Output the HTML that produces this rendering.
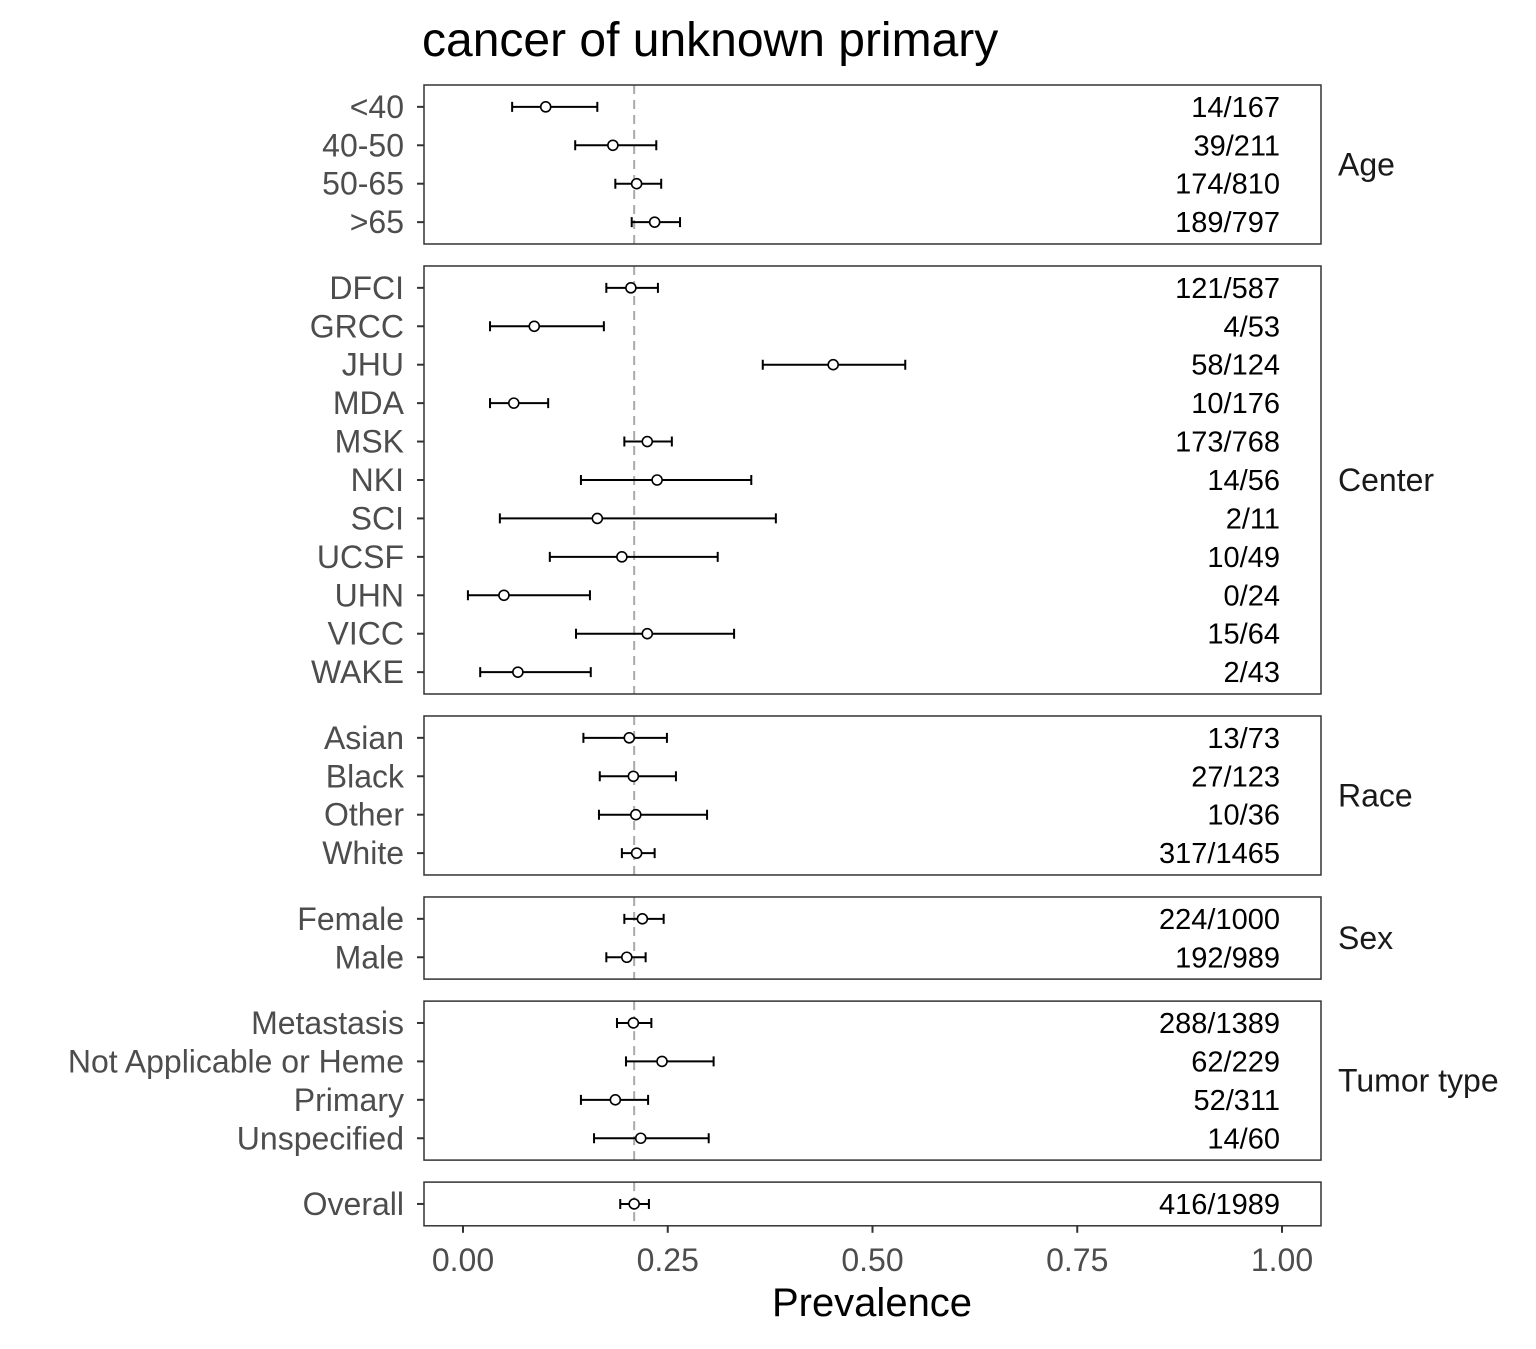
<!DOCTYPE html>
<html><head><meta charset="utf-8"><style>
body{margin:0;background:#fff}
svg text{font-family:"Liberation Sans",Arial,sans-serif}
</style></head><body>
<svg id="chart" width="1536" height="1344" xmlns="http://www.w3.org/2000/svg">
<text x="422" y="56" font-size="48" fill="#000">cancer of unknown primary</text>
<g id="panels"></g>
<g id="xaxis"></g>
<text x="872" y="1316" font-size="40" text-anchor="middle" fill="#000">Prevalence</text>
</svg>
<script>
const groups = ["Age","Center","Race","Sex","Tumor type",""];
const labels = [
 ["<40","40-50","50-65",">65"],
 ["DFCI","GRCC","JHU","MDA","MSK","NKI","SCI","UCSF","UHN","VICC","WAKE"],
 ["Asian","Black","Other","White"],
 ["Female","Male"],
 ["Metastasis","Not Applicable or Heme","Primary","Unspecified"],
 ["Overall"]
];
const counts = [
 ["14/167","39/211","174/810","189/797"],
 ["121/587","4/53","58/124","10/176","173/768","14/56","2/11","10/49","0/24","15/64","2/43"],
 ["13/73","27/123","10/36","317/1465"],
 ["224/1000","192/989"],
 ["288/1389","62/229","52/311","14/60"],
 ["416/1989"]
];
const estimates = [
 [0.101,0.183,0.212,0.234],
 [0.205,0.087,0.452,0.062,0.225,0.237,0.164,0.194,0.050,0.225,0.067],
 [0.203,0.208,0.211,0.212],
 [0.219,0.200],
 [0.208,0.243,0.186,0.217],
 [0.209]
];
const lowers = [
 [0.060,0.137,0.186,0.206],
 [0.175,0.033,0.366,0.033,0.197,0.144,0.045,0.106,0.006,0.138,0.021],
 [0.147,0.167,0.166,0.194],
 [0.197,0.175],
 [0.188,0.199,0.144,0.160],
 [0.192]
];
const uppers = [
 [0.164,0.236,0.242,0.265],
 [0.238,0.172,0.540,0.104,0.255,0.352,0.382,0.311,0.155,0.331,0.156],
 [0.249,0.260,0.298,0.234],
 [0.245,0.223],
 [0.230,0.306,0.226,0.300],
 [0.227]
];
const overallRef = 0.209;
const xTicks = [0,0.25,0.5,0.75,1];
const xTickLabels = ["0.00","0.25","0.50","0.75","1.00"];

const NS="http://www.w3.org/2000/svg";
const X0=463, X1=1282, PL=424, PR=1321;
const xs = v => X0 + v*(X1-X0);
const rowH = 38.43, pad = 21.85, gap = 22;
const gPanels = document.getElementById('panels');
function mk(tag, attrs, parent){const e=document.createElementNS(NS,tag);for(const k in attrs)e.setAttribute(k,attrs[k]);(parent||gPanels).appendChild(e);return e;}
let panelTop = 85;
groups.forEach((grp,gi)=>{
  const n = labels[gi].length;
  const h = (n-1)*rowH + 2*pad;
  const pg = mk('g',{});
  
  
  const ref = mk('line',{x1:xs(overallRef),x2:xs(overallRef),y1:panelTop,y2:panelTop+h,stroke:'#aaa','stroke-width':2,'stroke-dasharray':'9,6'},pg);
  
  
  labels[gi].forEach((lab,i)=>{
    const y = panelTop + pad + i*rowH;
    mk('line',{x1:417,x2:PL,y1:y,y2:y,stroke:'#333','stroke-width':2},pg);
    const t = mk('text',{x:404,y:y+11,'font-size':32,'text-anchor':'end',fill:'#4d4d4d'},pg);
    t.textContent = lab;
    
    
    const c = mk('text',{x:1280,y:y+10,'font-size':29,'text-anchor':'end',fill:'#000'},pg);
    c.textContent = counts[gi][i];
    
    
    const l=xs(lowers[gi][i]), u=xs(uppers[gi][i]);
    const ci = mk('path',{d:`M${l},${y}H${u}M${l},${y-5}V${y+5}M${u},${y-5}V${y+5}`,stroke:'#000','stroke-width':2,fill:'none'},pg);
    
    
    const p = mk('circle',{cx:xs(estimates[gi][i]),cy:y,r:5,fill:'#fff',stroke:'#000','stroke-width':1.6},pg);
    
    
  });
  mk('rect',{x:PL,y:panelTop,width:PR-PL,height:h,fill:'none',stroke:'#333','stroke-width':1.5},pg);
  if(grp){
    const s = mk('text',{x:1338,y:panelTop+h/2+11,'font-size':32,fill:'#1a1a1a'},pg);
    s.textContent = grp;
    
    
  }
  panelTop += h + gap;
});
const bottomY = panelTop - gap;
const xa = document.getElementById('xaxis');


xTicks.forEach((v,i)=>{
  mk('line',{x1:xs(v),x2:xs(v),y1:bottomY,y2:bottomY+7,stroke:'#333','stroke-width':2},xa);
  const t = mk('text',{x:xs(v),y:bottomY+45,'font-size':32,'text-anchor':'middle',fill:'#4d4d4d'},xa);
  t.textContent = xTickLabels[i];
  
  
});
</script>
</body></html>
